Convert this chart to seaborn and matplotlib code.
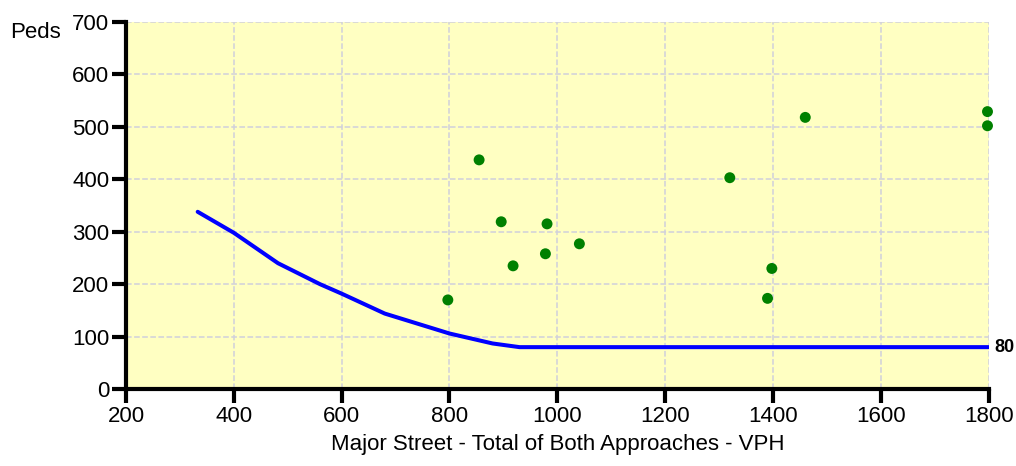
import matplotlib
matplotlib.use("Agg")
import matplotlib.pyplot as plt
import seaborn as sns
import pandas as pd

# threshold curve (peds vs major street VPH)
curve_vph = [333, 400, 482, 560, 600, 680, 800, 880, 930, 1800]
curve_peds = [338, 298, 240, 200, 182, 144, 106, 87, 80, 80]

# observed hours
obs_vph = [797, 855, 896, 918, 978, 981, 1041, 1320, 1390, 1398, 1460, 1798, 1798]
obs_peds = [170, 437, 319, 235, 258, 315, 277, 403, 173, 230, 518, 529, 502]

threshold_label = "80"

sns.set_theme(style="whitegrid")
plt.rcParams['font.family'] = ['Liberation Sans', 'DejaVu Sans']
plt.rcParams['text.color'] = 'black'

fig = plt.figure(figsize=(10.16, 4.66), dpi=100)
ax = fig.add_axes([0.124, 0.165, 0.849, 0.788])
ax.set_facecolor("#ffffc2")

curve_df = pd.DataFrame({"vph": curve_vph, "peds": curve_peds})
obs_df = pd.DataFrame({"vph": obs_vph, "peds": obs_peds})

sns.lineplot(data=curve_df, x="vph", y="peds", ax=ax, color="#0000ff",
             linewidth=2.9, sort=False, zorder=3)
sns.scatterplot(data=obs_df, x="vph", y="peds", ax=ax, color="#008000",
                s=62, edgecolor="none", zorder=4, clip_on=False)

ax.text(1810, 80, threshold_label, fontsize=13, fontweight="bold",
        va="center", ha="left")

ax.set_xlim(200, 1800)
ax.set_ylim(0, 700)
ax.set_xticks(range(200, 1801, 200))
ax.set_yticks(range(0, 701, 100))
ax.grid(True, color="#d0d0dc", linestyle="--", linewidth=1.1)
ax.set_axisbelow(True)

for side in ["top", "right"]:
    ax.spines[side].set_visible(False)
for side in ["left", "bottom"]:
    ax.spines[side].set_color("black")
    ax.spines[side].set_linewidth(3)
ax.tick_params(axis="both", which="major", length=10, width=3, color="black",
               labelsize=16, labelcolor="black", pad=2, direction="out",
               bottom=True, left=True)

ax.set_xlabel("Major Street - Total of Both Approaches - VPH", fontsize=16,
              color="black", labelpad=5)
ax.set_ylabel("")
fig.text(0.035, 0.93, "Peds", fontsize=16, ha="center", va="center")

fig.savefig("out.png", dpi=100)
